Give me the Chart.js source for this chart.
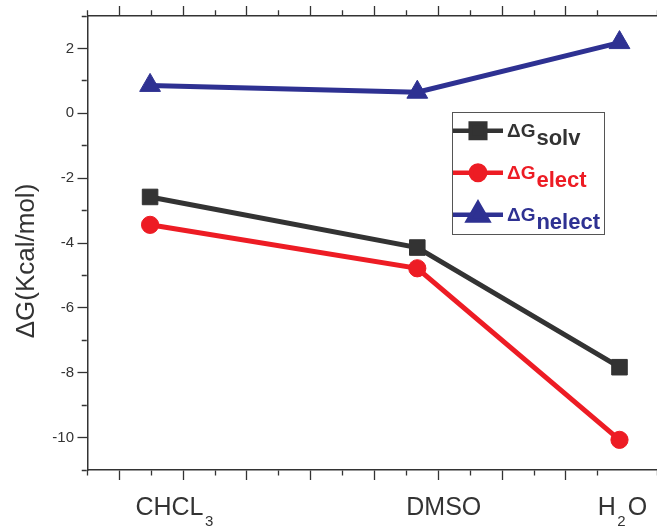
<!DOCTYPE html>
<html>
<head>
<meta charset="utf-8">
<script src="https://cdn.jsdelivr.net/npm/chart.js@4.4.1/dist/chart.umd.min.js"></script>
<style>
  html, body { margin: 0; padding: 0; background: #fff; }
  #canvas-grafico { display: block; }
</style>
</head>
<body>
<canvas id="canvas-grafico" width="657" height="526"></canvas>
<script>
// solvents, placed on x by their dielectric constant
var solventes = ["CHCL3", "DMSO", "H2O"];
var constante_dieletrica = [4.81, 46.7, 78.4];

// free energies (kcal/mol)
var dG_solv = [-2.58, -4.14, -7.83];
var dG_elect = [-3.44, -4.78, -10.07];
var dG_nelect = [0.86, 0.65, 2.18];

var nomes_series = ["solv", "elect", "nelect"];
var y_rotulos = [-10, -8, -6, -4, -2, 0, 2];

var fonte = '"Liberation Sans", Arial, Helvetica, sans-serif';
var cinza = "#333333";
var vermelho = "#ed1c24";
var azul = "#2e3192";

function pontos(valores) {
    return valores.map(function(v, i) {
        return { x: constante_dieletrica[i], y: v };
    });
}

// short minor ticks: only the 5px next to the axis line get drawn
function dash_menor(eh_maior, de_fora) {
    return function(ctx) {
        if (!ctx.tick || eh_maior(ctx.tick.value)) return [];
        return de_fora ? [0, 4.25, 5, 100] : [5, 100];
    };
}
function maior_x(v) { return Math.round(v) % 10 === 0; }
function maior_y(v) { return Math.round(v) % 2 === 0; }

var fundo_branco = {
    id: "fundo_branco",
    beforeDraw: function(chart) {
        var ctx = chart.ctx;
        ctx.save();
        ctx.fillStyle = "#fff";
        ctx.fillRect(0, 0, chart.width, chart.height);
        ctx.restore();
    }
};

// category names under the axis, digits as subscripts
var rotulos_x = {
    id: "rotulos_x",
    afterDraw: function(chart, args, opts) {
        var ctx = chart.ctx;
        var sx = chart.scales.x;
        ctx.save();
        ctx.fillStyle = cinza;
        ctx.textAlign = "left";
        ctx.textBaseline = "alphabetic";
        solventes.forEach(function(nome, i) {
            var x = sx.getPixelForValue(opts.ancoras[i]);
            nome.match(/[^0-9]+|[0-9]+/g).forEach(function(parte) {
                var sub = /^[0-9]/.test(parte);
                ctx.font = (sub ? "15px " : "25px ") + fonte;
                if (sub) x += 1.5;
                ctx.fillText(parte, x, sub ? 525.5 : 515);
                x += ctx.measureText(parte).width + (sub ? 2 : 0);
            });
        });
        ctx.restore();
    }
};

var titulo_y = {
    id: "titulo_y",
    afterDraw: function(chart) {
        var ctx = chart.ctx;
        ctx.save();
        ctx.translate(33.5, 261);
        ctx.rotate(-Math.PI / 2);
        ctx.fillStyle = cinza;
        ctx.font = "26px " + fonte;
        ctx.textAlign = "center";
        ctx.textBaseline = "alphabetic";
        ctx.fillText("\u0394G(Kcal/mol)", 0, 0);
        ctx.restore();
    }
};

var legenda = {
    id: "legenda",
    afterDraw: function(chart) {
        var ctx = chart.ctx;
        ctx.save();
        ctx.strokeStyle = "#555";
        ctx.lineWidth = 1;
        ctx.strokeRect(452.5, 112.5, 152, 122);
        chart.data.datasets.forEach(function(ds, i) {
            var y = 130.8 + i * 42;
            ctx.strokeStyle = ds.borderColor;
            ctx.fillStyle = ds.backgroundColor;
            ctx.lineWidth = 4.5;
            ctx.beginPath();
            ctx.moveTo(453, y);
            ctx.lineTo(503, y);
            ctx.stroke();
            Chart.helpers.drawPoint(ctx, {
                pointStyle: ds.pointStyle,
                radius: ds.raio_legenda,
                rotation: 0,
                borderWidth: 1
            }, 478, y);
            ctx.fillStyle = ds.borderColor;
            ctx.textAlign = "left";
            ctx.textBaseline = "alphabetic";
            ctx.font = "bold 19px " + fonte;
            ctx.fillText("\u0394G", 507, y + 6.6);
            var w = ctx.measureText("\u0394G").width;
            ctx.font = "bold 22px " + fonte;
            ctx.fillText(nomes_series[i], 507 + w + 1, y + 14);
        });
        ctx.restore();
    }
};

function inicializar_grafico() {
    var canvas = document.getElementById("canvas-grafico");

    var serie = function(valores, cor, estilo, raio, raio_legenda) {
        return {
            data: pontos(valores),
            borderColor: cor,
            backgroundColor: cor,
            borderWidth: 5,
            tension: 0,
            fill: false,
            pointStyle: estilo,
            pointRadius: raio,
            pointHoverRadius: raio,
            pointBorderWidth: 1,
            pointBackgroundColor: cor,
            pointBorderColor: cor,
            raio_legenda: raio_legenda,
            clip: false
        };
    };

    var eixo_x = function(posicao, altura) {
        return {
            type: "linear",
            position: posicao,
            min: -5,
            max: 84.28,
            ticks: { display: false, stepSize: 5 },
            grid: {
                drawOnChartArea: false,
                drawTicks: true,
                tickLength: 10,
                tickColor: cinza,
                tickWidth: 1.3,
                tickBorderDash: dash_menor(maior_x, posicao === "top")
            },
            border: { display: true, color: cinza, width: 1.5 },
            afterFit: function(scale) { scale.height = altura; }
        };
    };

    var chart = new Chart(canvas, {
        type: "line",
        data: {
            datasets: [
                serie(dG_solv, cinza, "rect", 11, 10.3),
                serie(dG_elect, vermelho, "circle", 8.6, 7.2),
                serie(dG_nelect, azul, "triangle", 12, 11.3)
            ]
        },
        options: {
            responsive: false,
            animation: false,
            devicePixelRatio: 1,
            layout: { padding: 0, autoPadding: false },
            plugins: {
                legend: { display: false },
                tooltip: { enabled: false },
                rotulos_x: { ancoras: [2.51, 44.98, 75.0] }
            },
            scales: {
                x: eixo_x("bottom", 56),
                x2: eixo_x("top", 16),
                y: {
                    type: "linear",
                    position: "left",
                    min: -11,
                    max: 3,
                    ticks: {
                        stepSize: 1,
                        padding: 3.5,
                        color: cinza,
                        font: { family: fonte, size: 15 },
                        callback: function(v) {
                            return y_rotulos.indexOf(v) >= 0 ? String(v) : "";
                        }
                    },
                    grid: {
                        drawOnChartArea: false,
                        drawTicks: true,
                        tickLength: 10,
                        tickColor: cinza,
                        tickWidth: 1.3,
                        tickBorderDash: dash_menor(maior_y, true)
                    },
                    border: { display: true, color: cinza, width: 1.5 },
                    afterFit: function(scale) { scale.width = 87.5; }
                }
            }
        },
        plugins: [fundo_branco, rotulos_x, titulo_y, legenda]
    });
}

inicializar_grafico();
</script>
</body>
</html>
